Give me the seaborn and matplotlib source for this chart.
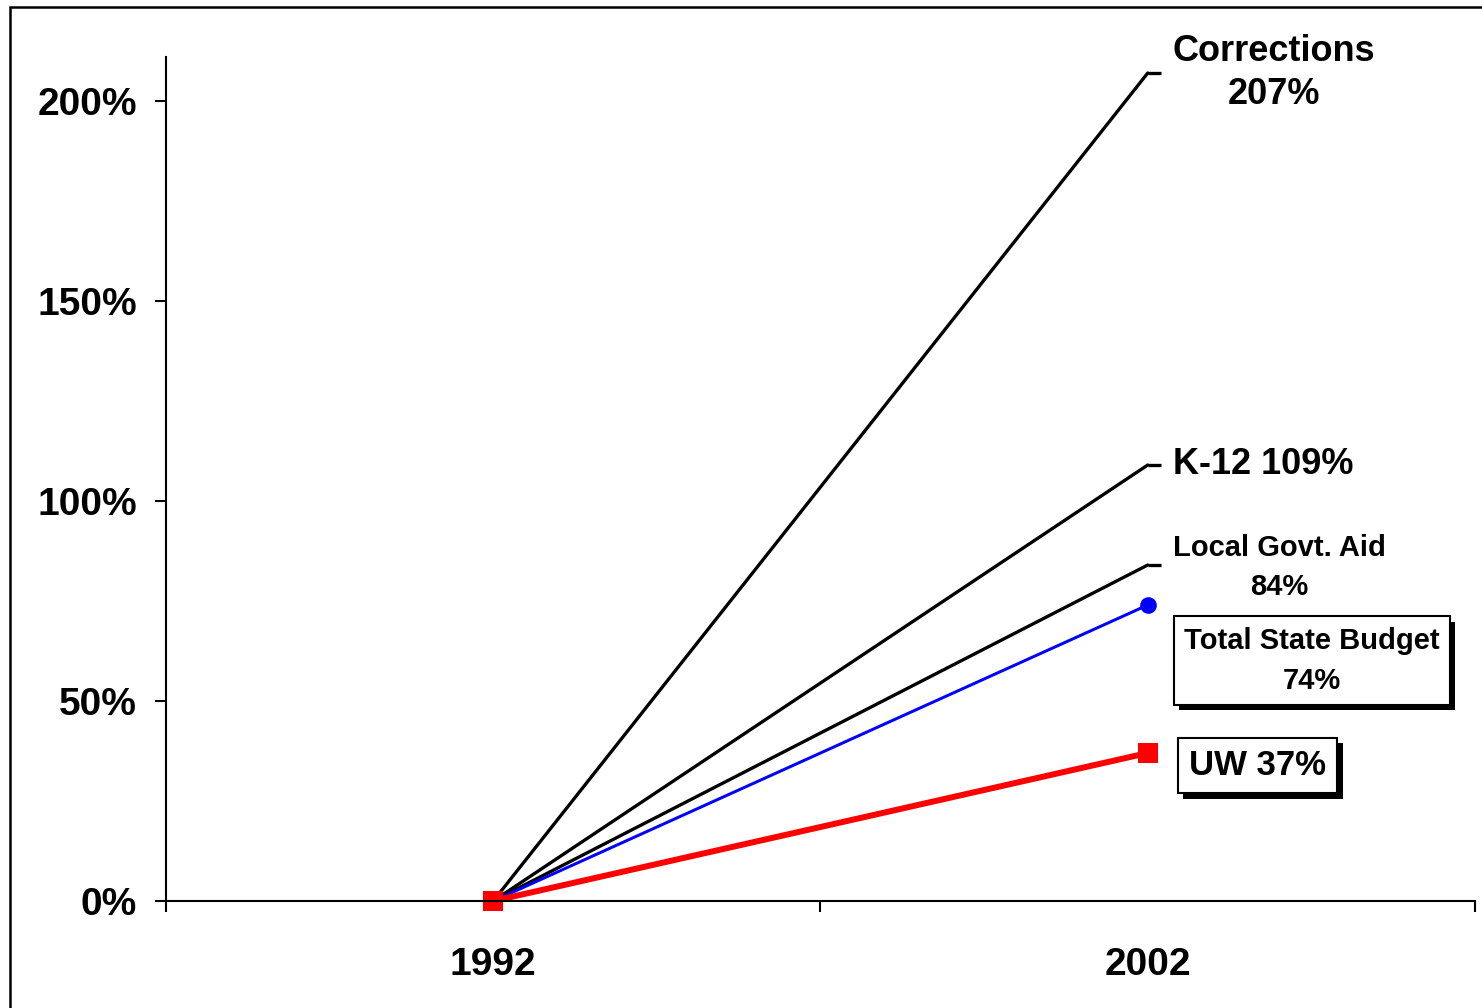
import matplotlib
matplotlib.use("Agg")
import matplotlib.pyplot as plt
import matplotlib.patches as mpatches
import matplotlib.patheffects as pe
import pandas as pd
import seaborn as sns

# Growth in spending since 1992 (percent change)
years = ["1992", "2002"]
corrections = [0, 207]
k12 = [0, 109]
local_aid = [0, 84]
total_budget = [0, 74]
uw = [0, 37]

sns.set_style("white")
plt.rcParams["font.family"] = ["Liberation Sans", "DejaVu Sans"]
plt.rcParams["font.weight"] = "bold"
for key in ("text.color", "axes.labelcolor", "xtick.color", "ytick.color"):
    plt.rcParams[key] = "black"

fig = plt.figure(figsize=(14.82, 10.08), dpi=100)
ax = fig.add_axes([166 / 1482, 1 - 901 / 1008, (1475 - 166) / 1482, (901 - 57) / 1008])

def frame(vals):
    return pd.DataFrame({"year": years, "pct": vals})

px = 0.72  # points per pixel at 100 dpi
for vals in (corrections, k12, local_aid):
    sns.lineplot(data=frame(vals), x="year", y="pct", ax=ax, color="black",
                 linewidth=3.3 * px, clip_on=False)
sns.lineplot(data=frame(total_budget), x="year", y="pct", ax=ax, color="#0000ff",
             linewidth=3 * px, marker="o", markersize=12, markeredgewidth=0,
             clip_on=False)
sns.lineplot(data=frame(uw), x="year", y="pct", ax=ax, color="#ff0000",
             linewidth=6 * px, marker="s", markersize=15, markeredgewidth=0,
             clip_on=False)

# short leader stubs at the end of the black series
for vals in (corrections, k12, local_aid):
    ax.plot([1, 1.021], [vals[-1], vals[-1]], color="black", linewidth=3.3 * px,
            clip_on=False, solid_capstyle="butt")

ax.set_xlim(-0.5, 1.5)
ax.set_ylim(0, 211)
ax.set_xlabel("")
ax.set_ylabel("")

ax.set_yticks([0, 50, 100, 150, 200])
ax.set_yticklabels([f"{v}%" for v in [0, 50, 100, 150, 200]])
ax.set_xticks([0, 1])
ax.set_xticklabels(years)
ax.set_xticks([-0.5, 0.5, 1.5], minor=True)

ax.tick_params(axis="y", direction="out", length=8, width=1.5, pad=13,
               labelsize=28, colors="black", left=True)
ax.tick_params(axis="x", which="major", length=0, pad=33, labelsize=28,
               colors="black")
ax.tick_params(axis="x", which="minor", direction="out", length=8, width=1.5,
               bottom=True, colors="black")
for lab in ax.get_xticklabels() + ax.get_yticklabels():
    lab.set_fontweight("bold")

for side in ("top", "right"):
    ax.spines[side].set_visible(False)
for side in ("left", "bottom"):
    ax.spines[side].set_linewidth(1.5)
    ax.spines[side].set_color("black")

end = 1
ax.annotate(f"Corrections\n{corrections[-1]}%", xy=(end, corrections[-1]),
            xytext=(91, 0), textcoords="offset points", ha="center", va="center",
            fontsize=26, fontweight="bold", linespacing=1.32, annotation_clip=False)
ax.annotate(f"K-12 {k12[-1]}%", xy=(end, k12[-1]), xytext=(18, 0),
            textcoords="offset points", ha="left", va="center",
            fontsize=26, fontweight="bold", annotation_clip=False)
ax.annotate(f"Local Govt. Aid\n{local_aid[-1]}%", xy=(end, local_aid[-1]),
            xytext=(95, -2), textcoords="offset points", ha="center", va="center",
            fontsize=21, fontweight="bold", linespacing=1.5, annotation_clip=False)

box = dict(boxstyle="square,pad=0.35", facecolor="white", edgecolor="black",
           linewidth=1.5)
shadow = [pe.SimplePatchShadow(offset=(4, -4), shadow_rgbFace="black", alpha=1),
          pe.Normal()]
t1 = ax.annotate(f"Total State Budget\n{total_budget[-1]}%", xy=(end, total_budget[-1]),
                 xytext=(118, -40), textcoords="offset points", ha="center",
                 va="center", fontsize=21, fontweight="bold", linespacing=1.55,
                 bbox=box, annotation_clip=False)
t2 = ax.annotate(f"UW {uw[-1]}%", xy=(end, uw[-1]), xytext=(79, -9),
                 textcoords="offset points", ha="center", va="center",
                 fontsize=25, fontweight="bold", bbox=dict(box, boxstyle="square,pad=0.32"),
                 annotation_clip=False)
for t in (t1, t2):
    t.get_bbox_patch().set_path_effects(shadow)

# outer border of the slide
fig.patches.append(mpatches.Rectangle((10 / 1482, -0.1), 1.2, 1 - 7 / 1008 + 0.1,
                                      transform=fig.transFigure, fill=False,
                                      edgecolor="black", linewidth=1.8))

fig.savefig("out.png", dpi=100)
